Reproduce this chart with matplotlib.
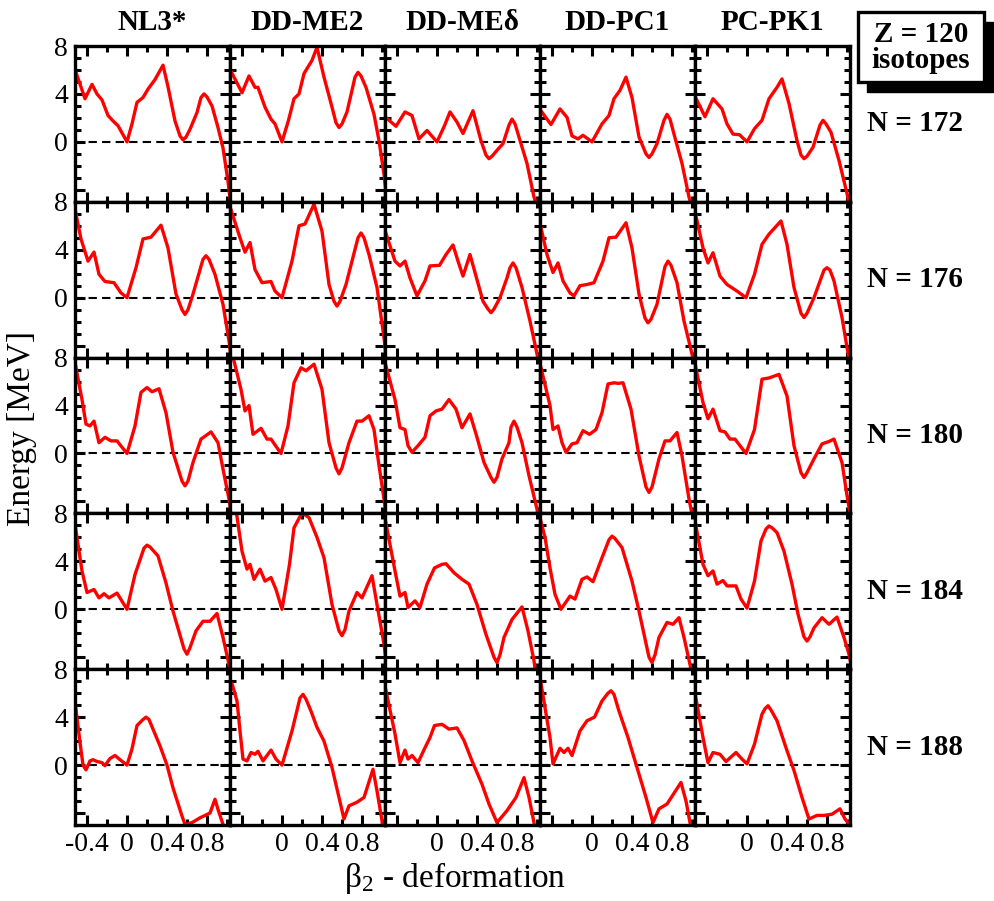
import numpy as np
import matplotlib
matplotlib.use("Agg")
import matplotlib.pyplot as plt
from matplotlib.patches import Rectangle
from matplotlib.ticker import FixedLocator, MultipleLocator

plt.rcParams['font.family'] = ['Liberation Serif', 'DejaVu Serif']
plt.rcParams['mathtext.fontset'] = 'custom'
plt.rcParams['mathtext.rm'] = 'Liberation Serif'
plt.rcParams['mathtext.it'] = 'Liberation Serif:italic'
plt.rcParams['axes.unicode_minus'] = False

models = ["NL3*", "DD-ME2", "DD-MEδ", "DD-PC1", "PC-PK1"]
neutrons = [172, 176, 180, 184, 188]

# potential energy curves, (beta2, E [MeV])
n172_nl3 = [(-0.51, 5.8), (-0.42, 3.6), (-0.35, 4.8), (-0.30, 4.0), (-0.25, 3.5), (-0.19, 2.2),
            (-0.14, 1.75), (-0.09, 1.35), (0.0, 0.0), (0.05, 1.5), (0.10, 3.3), (0.16, 3.7),
            (0.21, 4.4), (0.28, 5.2), (0.36, 6.4), (0.41, 4.6), (0.48, 1.75), (0.53, 0.5),
            (0.56, 0.17), (0.59, 0.4), (0.63, 1.05), (0.70, 2.45), (0.74, 3.7), (0.77, 4.0),
            (0.80, 3.75), (0.85, 3.0), (0.91, 1.2), (0.96, -0.5), (1.01, -3.3), (1.05, -6.0)]
n172_me2 = [(-0.51, 5.9), (-0.40, 4.1), (-0.33, 5.5), (-0.27, 4.55), (-0.24, 4.55), (-0.17, 2.9),
            (-0.11, 1.9), (-0.07, 1.5), (0.0, 0.0), (0.065, 1.8), (0.12, 3.6), (0.17, 4.0),
            (0.22, 5.7), (0.30, 6.8), (0.35, 7.9), (0.42, 5.4), (0.50, 2.9), (0.54, 1.6),
            (0.57, 1.2), (0.60, 1.5), (0.65, 2.5), (0.70, 4.3), (0.73, 5.4), (0.76, 5.8),
            (0.79, 5.5), (0.84, 4.55), (0.92, 2.3), (0.97, 0.1), (1.02, -2.7), (1.06, -5.5)]
n172_medelta = [(-0.52, 2.1), (-0.41, 1.3), (-0.32, 2.5), (-0.25, 2.2), (-0.18, 0.25), (-0.10, 0.95),
                (0.0, 0.0), (0.075, 1.35), (0.13, 2.5), (0.20, 1.65), (0.26, 0.7), (0.36, 2.6),
                (0.44, 0.1), (0.49, -1.1), (0.52, -1.4), (0.55, -1.2), (0.60, -0.7), (0.66, -0.15),
                (0.72, 1.4), (0.75, 1.9), (0.78, 1.5), (0.82, 0.4), (0.90, -1.8), (0.97, -4.6),
                (1.0, -5.4)]
n172_pc1 = [(-0.52, 2.7), (-0.41, 1.45), (-0.32, 2.75), (-0.25, 2.05), (-0.20, 0.5), (-0.14, 0.25),
            (-0.09, 0.55), (0.0, 0.0), (0.10, 1.5), (0.17, 2.2), (0.22, 3.6), (0.28, 4.3),
            (0.34, 5.4), (0.40, 3.7), (0.47, 0.4), (0.54, -1.0), (0.57, -1.3), (0.60, -1.0),
            (0.65, -0.15), (0.72, 1.8), (0.75, 2.3), (0.78, 1.9), (0.82, 0.65), (0.90, -1.8),
            (0.97, -4.6), (1.0, -5.5)]
n172_pk1 = [(-0.52, 3.8), (-0.42, 2.1), (-0.34, 3.6), (-0.25, 2.75), (-0.20, 1.5), (-0.14, 0.65),
            (-0.075, 0.6), (0.0, 0.0), (0.075, 1.1), (0.15, 1.8), (0.22, 3.6), (0.30, 4.55),
            (0.35, 5.25), (0.42, 3.2), (0.50, 0.1), (0.54, -1.1), (0.57, -1.4), (0.60, -1.2),
            (0.66, -0.45), (0.73, 1.4), (0.76, 1.8), (0.79, 1.5), (0.84, 0.8), (0.92, -1.55),
            (1.0, -4.3), (1.03, -5.5)]

n176_nl3 = [(-0.52, 7.4), (-0.46, 4.9), (-0.39, 3.05), (-0.33, 3.8), (-0.28, 1.95), (-0.22, 1.35),
            (-0.13, 1.25), (-0.06, 0.4), (0.0, 0.0), (0.09, 2.5), (0.16, 4.9), (0.24, 5.05),
            (0.34, 6.05), (0.41, 4.15), (0.49, 0.3), (0.55, -1.0), (0.58, -1.4), (0.61, -1.0),
            (0.66, 0.3), (0.76, 3.2), (0.79, 3.5), (0.82, 3.2), (0.88, 1.95), (0.96, -0.55),
            (1.02, -3.6), (1.05, -5.5)]
n176_me2 = [(-0.52, 7.6), (-0.42, 5.0), (-0.37, 3.8), (-0.32, 4.6), (-0.27, 2.35), (-0.20, 1.25),
            (-0.11, 1.35), (-0.07, 0.55), (0.0, 0.0), (0.10, 3.05), (0.17, 6.0), (0.23, 6.15),
            (0.32, 7.8), (0.40, 5.55), (0.47, 1.1), (0.52, -0.3), (0.55, -0.7), (0.58, -0.3),
            (0.64, 1.1), (0.76, 5.0), (0.79, 5.4), (0.82, 5.0), (0.87, 3.6), (0.95, 0.85),
            (1.02, -3.35), (1.05, -5.5)]
n176_medelta = [(-0.52, 5.6), (-0.42, 3.05), (-0.37, 2.65), (-0.32, 3.05), (-0.27, 1.65), (-0.20, 0.15),
                (-0.12, 1.4), (-0.07, 2.65), (0.025, 2.7), (0.09, 3.6), (0.16, 4.4), (0.21, 3.05),
                (0.26, 1.8), (0.33, 3.6), (0.40, 1.5), (0.46, -0.3), (0.51, -0.95), (0.54, -1.25),
                (0.57, -0.95), (0.63, 0.0), (0.70, 1.65), (0.73, 2.5), (0.76, 2.9), (0.79, 2.5),
                (0.85, 0.85), (0.93, -1.95), (1.0, -4.7), (1.02, -5.5)]
n176_pc1 = [(-0.52, 6.2), (-0.45, 3.6), (-0.39, 2.1), (-0.34, 2.9), (-0.29, 1.4), (-0.22, 0.4),
            (-0.18, 0.15), (-0.12, 1.0), (-0.05, 1.1), (0.02, 1.25), (0.11, 3.05), (0.17, 5.0),
            (0.24, 5.05), (0.34, 6.25), (0.40, 4.15), (0.47, 0.3), (0.53, -1.7), (0.56, -2.1),
            (0.59, -1.8), (0.65, -0.55), (0.73, 2.6), (0.76, 3.05), (0.79, 2.7), (0.85, 1.25),
            (0.92, -1.95), (1.0, -4.7), (1.02, -5.5)]
n176_pk1 = [(-0.52, 7.2), (-0.44, 4.15), (-0.39, 2.9), (-0.34, 3.75), (-0.27, 1.8), (-0.20, 1.1),
            (-0.10, 0.55), (-0.01, 0.0), (0.075, 1.95), (0.15, 4.45), (0.22, 5.3), (0.34, 6.4),
            (0.40, 4.45), (0.47, 0.85), (0.54, -1.3), (0.57, -1.65), (0.60, -1.3), (0.67, 0.0),
            (0.77, 2.3), (0.80, 2.5), (0.83, 2.3), (0.87, 1.4), (0.95, -1.65), (1.0, -4.15),
            (1.03, -5.5)]

n180_nl3 = [(-0.52, 7.6), (-0.45, 4.5), (-0.41, 2.45), (-0.37, 2.3), (-0.33, 2.7), (-0.28, 0.9),
            (-0.22, 1.35), (-0.16, 1.05), (-0.10, 1.05), (0.0, 0.0), (0.08, 2.3), (0.14, 5.1),
            (0.20, 5.5), (0.25, 5.15), (0.32, 5.4), (0.39, 3.4), (0.46, 0.1), (0.55, -2.3),
            (0.58, -2.7), (0.61, -2.3), (0.66, -0.75), (0.74, 1.2), (0.84, 1.8), (0.91, 0.9),
            (0.96, -1.3), (1.02, -3.8), (1.05, -5.5)]
n180_me2 = [(-0.50, 8.4), (-0.41, 5.35), (-0.37, 3.55), (-0.33, 4.0), (-0.29, 1.6), (-0.21, 2.1),
            (-0.15, 1.2), (-0.11, 1.2), (-0.01, 0.0), (0.06, 2.3), (0.12, 5.9), (0.19, 7.15),
            (0.24, 6.9), (0.32, 7.45), (0.40, 5.35), (0.47, 0.9), (0.54, -1.2), (0.57, -1.7),
            (0.60, -1.2), (0.67, 0.9), (0.75, 2.7), (0.80, 2.7), (0.87, 3.15), (0.92, 2.0),
            (0.97, -1.0), (1.02, -3.8), (1.05, -5.5)]
n180_medelta = [(-0.52, 7.6), (-0.42, 4.5), (-0.37, 2.15), (-0.32, 2.0), (-0.29, 0.65), (-0.25, 0.1),
                (-0.19, 0.65), (-0.12, 1.35), (-0.07, 3.15), (-0.01, 3.55), (0.05, 3.7), (0.12, 4.5),
                (0.19, 3.7), (0.25, 2.15), (0.33, 3.3), (0.40, 1.35), (0.47, -0.75), (0.54, -2.0),
                (0.57, -2.4), (0.60, -2.0), (0.65, -0.45), (0.72, 0.9), (0.74, 2.2), (0.77, 2.7),
                (0.80, 2.2), (0.85, 0.9), (0.92, -1.85), (1.0, -4.65), (1.02, -5.5)]
n180_pc1 = [(-0.52, 7.5), (-0.42, 4.0), (-0.39, 2.0), (-0.34, 2.3), (-0.30, 0.9), (-0.26, 0.1),
            (-0.20, 0.8), (-0.15, 0.9), (-0.09, 1.9), (-0.025, 1.6), (0.04, 2.0), (0.10, 3.4),
            (0.16, 5.8), (0.22, 5.9), (0.26, 5.85), (0.31, 5.9), (0.39, 3.7), (0.47, -0.2),
            (0.54, -2.8), (0.57, -3.25), (0.60, -2.8), (0.67, -0.45), (0.73, 1.05), (0.78, 1.05),
            (0.85, 1.75), (0.90, -0.2), (0.97, -3.8), (1.01, -5.5)]
n180_pk1 = [(-0.52, 7.5), (-0.44, 4.25), (-0.39, 2.9), (-0.34, 3.7), (-0.27, 1.9), (-0.22, 1.8),
            (-0.17, 1.2), (-0.12, 1.2), (-0.07, 0.65), (-0.01, 0.0), (0.075, 2.0), (0.15, 6.2),
            (0.22, 6.3), (0.32, 6.6), (0.40, 4.8), (0.47, 0.65), (0.54, -1.6), (0.57, -2.0),
            (0.60, -1.6), (0.67, -0.45), (0.75, 0.8), (0.82, 1.0), (0.87, 1.2), (0.95, -0.75),
            (1.0, -3.5), (1.03, -5.0)]

n184_nl3 = [(-0.52, 7.1), (-0.45, 3.2), (-0.40, 1.4), (-0.33, 1.65), (-0.28, 0.95), (-0.23, 1.3),
            (-0.18, 0.95), (-0.10, 1.35), (0.0, 0.0), (0.08, 2.9), (0.17, 5.1), (0.20, 5.35),
            (0.23, 5.2), (0.31, 4.45), (0.39, 2.2), (0.46, -0.15), (0.57, -3.3), (0.60, -3.75),
            (0.63, -3.2), (0.69, -1.8), (0.76, -1.0), (0.83, -1.0), (0.90, -0.35), (0.96, -2.35),
            (1.02, -4.6), (1.04, -5.5)]
n184_me2 = [(-0.46, 8.3), (-0.40, 4.85), (-0.35, 3.35), (-0.32, 3.75), (-0.28, 2.5), (-0.22, 3.35),
            (-0.17, 2.35), (-0.11, 2.65), (-0.06, 1.65), (0.0, 0.0), (0.075, 3.75), (0.12, 6.8),
            (0.20, 8.05), (0.27, 7.65), (0.35, 6.0), (0.42, 4.3), (0.50, 0.4), (0.57, -1.8),
            (0.60, -2.2), (0.63, -1.7), (0.67, -0.15), (0.75, 1.4), (0.80, 0.95), (0.90, 2.8),
            (0.95, 0.4), (1.02, -2.9), (1.06, -5.5)]
n184_medelta = [(-0.52, 7.6), (-0.42, 3.2), (-0.37, 1.1), (-0.32, 1.4), (-0.29, 0.15), (-0.22, 0.7),
                (-0.17, 0.15), (-0.10, 2.1), (-0.025, 3.45), (0.05, 3.75), (0.09, 3.8), (0.17, 3.05),
                (0.25, 2.5), (0.32, 2.1), (0.40, 0.4), (0.49, -2.1), (0.57, -4.0), (0.60, -4.45),
                (0.63, -3.8), (0.67, -2.35), (0.75, -0.85), (0.85, 0.2), (0.91, -1.8), (0.97, -4.3),
                (0.99, -5.5)]
n184_pc1 = [(-0.52, 7.6), (-0.47, 6.0), (-0.42, 3.45), (-0.37, 1.25), (-0.31, 0.0), (-0.22, 1.1),
            (-0.17, 0.85), (-0.10, 2.5), (-0.05, 2.7), (0.01, 2.3), (0.10, 4.3), (0.17, 5.8),
            (0.20, 6.1), (0.23, 5.9), (0.30, 5.15), (0.40, 2.35), (0.47, -0.15), (0.57, -4.0),
            (0.60, -4.45), (0.63, -3.8), (0.67, -2.35), (0.75, -1.1), (0.81, -1.25), (0.87, -0.7),
            (0.92, -2.35), (0.98, -4.6), (1.0, -5.5)]
n184_pk1 = [(-0.52, 7.4), (-0.44, 3.75), (-0.39, 2.8), (-0.34, 3.2), (-0.30, 2.1), (-0.24, 2.4),
            (-0.20, 1.95), (-0.11, 1.95), (-0.06, 0.85), (0.0, 0.1), (0.075, 2.35), (0.14, 5.7),
            (0.19, 6.7), (0.22, 6.95), (0.25, 6.8), (0.30, 6.4), (0.37, 4.85), (0.45, 2.1),
            (0.51, -0.4), (0.57, -2.3), (0.60, -2.65), (0.63, -2.3), (0.67, -1.55), (0.75, -0.7),
            (0.82, -1.25), (0.90, -0.65), (0.97, -2.35), (1.02, -3.75), (1.05, -5.0)]

n188_nl3 = [(-0.52, 5.3), (-0.47, 1.9), (-0.44, 0.0), (-0.41, -0.4), (-0.37, 0.35), (-0.34, 0.45),
            (-0.30, 0.3), (-0.25, 0.2), (-0.22, -0.05), (-0.17, 0.55), (-0.12, 0.8), (-0.07, 0.45),
            (0.0, 0.0), (0.05, 1.35), (0.10, 3.3), (0.16, 3.8), (0.19, 4.0), (0.22, 3.8),
            (0.26, 3.0), (0.33, 1.6), (0.40, 0.0), (0.46, -1.9), (0.55, -4.25), (0.58, -4.95),
            (0.65, -4.8), (0.73, -4.4), (0.83, -4.0), (0.88, -2.85), (0.91, -3.7), (0.96, -4.95),
            (0.98, -5.5)]
n188_me2 = [(-0.50, 6.8), (-0.45, 5.35), (-0.42, 2.85), (-0.39, 0.5), (-0.35, 0.35), (-0.31, 1.05),
            (-0.27, 0.9), (-0.24, 1.15), (-0.19, 0.35), (-0.11, 1.25), (-0.06, 0.5), (0.0, 0.0),
            (0.10, 2.85), (0.18, 5.6), (0.21, 5.9), (0.24, 5.5), (0.29, 4.5), (0.35, 3.15),
            (0.42, 2.0), (0.50, -0.2), (0.57, -2.7), (0.62, -4.5), (0.67, -3.4), (0.75, -3.1),
            (0.82, -2.7), (0.91, -0.35), (0.95, -2.15), (1.0, -4.65), (1.01, -5.5)]
n188_medelta = [(-0.52, 6.6), (-0.42, 2.6), (-0.37, 0.2), (-0.32, 1.25), (-0.29, 0.5), (-0.25, 0.8),
                (-0.19, 0.2), (-0.12, 1.45), (-0.07, 2.3), (-0.025, 3.3), (0.05, 3.4), (0.12, 3.0),
                (0.20, 3.1), (0.27, 2.05), (0.35, 0.35), (0.45, -1.6), (0.52, -3.25), (0.60, -4.8),
                (0.70, -3.8), (0.79, -2.7), (0.87, -1.05), (0.92, -2.7), (0.97, -4.8), (0.98, -5.5)]
n188_pc1 = [(-0.52, 7.3), (-0.42, 2.3), (-0.39, 0.1), (-0.32, 1.4), (-0.28, 1.05), (-0.24, 1.4),
            (-0.20, 0.8), (-0.12, 2.85), (-0.05, 3.7), (0.025, 4.0), (0.10, 5.35), (0.16, 6.0),
            (0.19, 6.2), (0.22, 5.9), (0.27, 4.5), (0.36, 2.3), (0.45, -0.2), (0.54, -2.7),
            (0.61, -4.8), (0.67, -3.65), (0.75, -3.25), (0.89, -1.45), (0.94, -3.0), (0.98, -4.8),
            (1.0, -5.5)]
n188_pk1 = [(-0.52, 6.0), (-0.44, 2.3), (-0.39, 0.2), (-0.34, 1.05), (-0.27, 0.9), (-0.21, 0.3),
            (-0.11, 1.05), (-0.05, 0.5), (0.0, 0.1), (0.075, 1.75), (0.15, 4.25), (0.18, 4.7),
            (0.21, 4.95), (0.24, 4.6), (0.30, 3.7), (0.40, 1.2), (0.47, -0.45), (0.55, -2.7),
            (0.62, -4.5), (0.70, -4.2), (0.77, -4.2), (0.85, -4.1), (0.93, -3.65), (0.98, -4.5),
            (1.02, -4.9), (1.04, -5.5)]

curves = [
    [n172_nl3, n172_me2, n172_medelta, n172_pc1, n172_pk1],
    [n176_nl3, n176_me2, n176_medelta, n176_pc1, n176_pk1],
    [n180_nl3, n180_me2, n180_medelta, n180_pc1, n180_pk1],
    [n184_nl3, n184_me2, n184_medelta, n184_pc1, n184_pk1],
    [n188_nl3, n188_me2, n188_medelta, n188_pc1, n188_pk1],
]

W, H = 995, 901
fig, axes = plt.subplots(5, 5, figsize=(W / 100, H / 100), dpi=100)
fig.subplots_adjust(left=75 / W, right=850 / W, bottom=1 - 825 / H, top=1 - 46 / H,
                    wspace=0, hspace=0)

for i in range(5):
    for j in range(5):
        ax = axes[i, j]
        pts = np.array(sorted(curves[i][j]))
        ax.axhline(0, color='black', lw=1.5, ls=(0, (4, 2.5)), zorder=1)
        ax.plot(pts[:, 0], pts[:, 1], color='#ff0000', lw=2.4,
                solid_joinstyle='round', solid_capstyle='round', zorder=2)
        ax.set_xlim(-0.52, 1.03)
        ax.set_ylim(-5, 8)
        ax.xaxis.set_major_locator(FixedLocator([-0.4, 0, 0.4, 0.8]))
        ax.xaxis.set_minor_locator(MultipleLocator(0.2))
        ax.yaxis.set_major_locator(FixedLocator([-4, 0, 4, 8]))
        ax.yaxis.set_minor_locator(MultipleLocator(1))
        ax.tick_params(which='both', direction='in', top=True, right=True,
                       width=2.2, labelsize=20, labelleft=False, labelbottom=False)
        ax.tick_params(which='major', length=7, pad=5)
        ax.tick_params(which='minor', length=4.5)
        for sp in ax.spines.values():
            sp.set_linewidth(2.4)

        if j == 0:
            ax.set_yticks([-4, 0, 4, 8], ['', '0', '4', '8'])
            ax.tick_params(labelleft=True)
        if i == 4:
            xl = ['-0.4', '0', '0.4', '0.8'] if j == 0 else ['', '0', '0.4', '0.8']
            ax.set_xticks([-0.4, 0, 0.4, 0.8], xl)
            ax.tick_params(labelbottom=True)

for j, name in enumerate(models):
    pos = axes[0, j].get_position()
    fig.text((pos.x0 + pos.x1) / 2, 1 - 22 / H, name, ha='center', va='center',
             fontsize=21, fontweight='bold')

for i, n in enumerate(neutrons):
    pos = axes[i, 4].get_position()
    fig.text(915 / W, (pos.y0 + pos.y1) / 2, f"N = {n}", ha='center', va='center',
             fontsize=21, fontweight='bold')

fig.text(22 / W, 1 - 428 / H, "Energy [MeV]", rotation=90, ha='center', va='center', fontsize=24)
fig.text(455 / W, 1 - 878 / H, r"$\mathrm{\beta_2}$ - deformation", ha='center', va='center',
         fontsize=24)

# boxed label with drop shadow
bx0, by0, bw, bh = 858, 12, 126, 70
fig.patches.append(Rectangle(((bx0 + 9) / W, 1 - (by0 + bh + 10) / H), bw / W, bh / H,
                             transform=fig.transFigure, facecolor='black', edgecolor='black',
                             zorder=5))
fig.patches.append(Rectangle((bx0 / W, 1 - (by0 + bh) / H), bw / W, bh / H,
                             transform=fig.transFigure, facecolor='white', edgecolor='black',
                             lw=2.4, zorder=6))
fig.text((bx0 + bw / 2) / W, 1 - 34 / H, "Z = 120", ha='center', va='center',
         fontsize=21, fontweight='bold', zorder=7)
fig.text((bx0 + bw / 2) / W, 1 - 61 / H, "isotopes", ha='center', va='center',
         fontsize=21, fontweight='bold', zorder=7)

fig.savefig("out.png", dpi=100)
